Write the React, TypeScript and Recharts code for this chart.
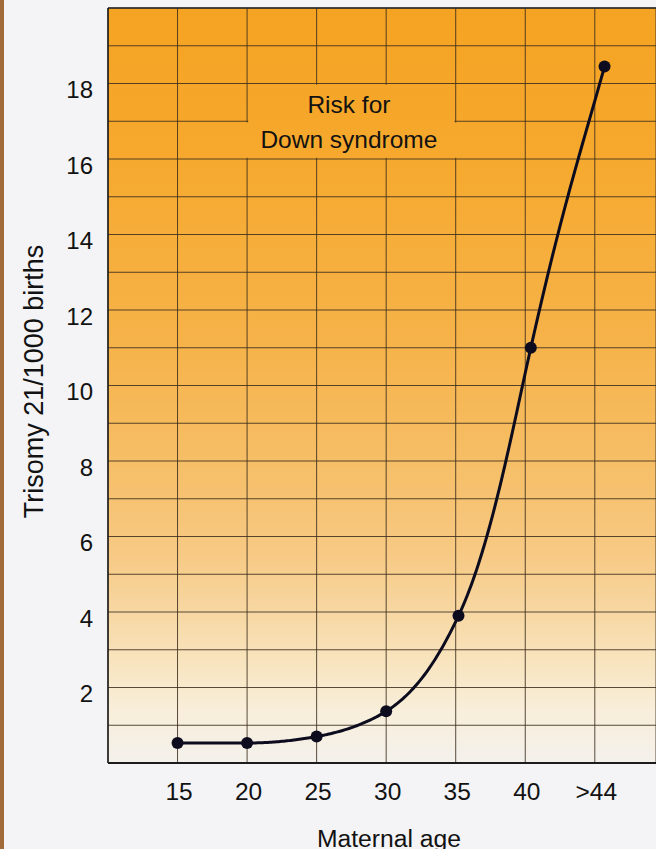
import React from "react";
import {
  LineChart,
  Line,
  XAxis,
  YAxis,
  CartesianGrid,
  ReferenceArea,
  ReferenceLine,
  Label,
} from "recharts";

// ---------- data ----------
const maternalAge = [15, 20, 25, 30, 35.2, 40.4, 45.7];
const trisomyPer1000 = [0.53, 0.53, 0.7, 1.37, 3.9, 11, 18.45];

const xTickValues = [10, 15, 20, 25, 30, 35, 40, 45];
const xTickLabels = ["", "15", "20", "25", "30", "35", "40", ">44"];

const yTickValues = [0, 1, 2, 3, 4, 5, 6, 7, 8, 9, 10, 11, 12, 13, 14, 15, 16, 17, 18, 19, 20];
const yLabelledTicks = [2, 4, 6, 8, 10, 12, 14, 16, 18];

const titleLines = ["Risk for", "Down syndrome"];
const titleBoxX1 = [20, 15];
const titleBoxX2 = [35, 40];
const titleBoxY1 = [17, 16];
const titleBoxY2 = [18, 17];

const xAxisTitle = "Maternal age";
const yAxisTitle = "Trisomy 21/1000 births";

const data = maternalAge.map((age, i) => ({ age, risk: trisomyPer1000[i] }));

// ---------- layout / style ----------
const W = 656;
const H = 849;
const PLOT_TOP = 8;
const X_AXIS_H = 86;
const Y_AXIS_W = 108;
const PLOT_BOTTOM = H - X_AXIS_H;
const FONT = "'Liberation Sans', Arial, Helvetica, sans-serif";
const TEXT = "#121212";
const titleNudgeY = [11, 7.5];

// Smooth curve: monotone cubic interpolation of the log of the distance
// from the value-0 baseline (gives the exponential-looking risk curve).
const makeLogMonotoneCurve = (baselineY: number) => (context: any) => {
  let xs: number[] = [];
  let ys: number[] = [];
  const sign = (v: number) => (v < 0 ? -1 : 1);
  return {
    areaStart() {},
    areaEnd() {},
    lineStart() {
      xs = [];
      ys = [];
    },
    point(x: number, y: number) {
      xs.push(+x);
      ys.push(+y);
    },
    lineEnd() {
      const n = xs.length;
      if (n === 0) return;
      context.moveTo(xs[0], ys[0]);
      if (n === 1) return;
      const u = ys.map((y) => Math.log(Math.max(baselineY - y, 1e-3)));
      const h: number[] = [];
      const s: number[] = [];
      for (let i = 0; i < n - 1; i++) {
        h.push(xs[i + 1] - xs[i]);
        s.push((u[i + 1] - u[i]) / (xs[i + 1] - xs[i]));
      }
      const m: number[] = new Array(n).fill(0);
      for (let i = 1; i < n - 1; i++) {
        const s0 = s[i - 1];
        const s1 = s[i];
        const p = (s0 * h[i] + s1 * h[i - 1]) / (h[i - 1] + h[i]);
        m[i] = (sign(s0) + sign(s1)) * Math.min(Math.abs(s0), Math.abs(s1), 0.5 * Math.abs(p)) || 0;
      }
      if (n > 2) {
        m[0] = (3 * s[0] - m[1]) / 2;
        m[n - 1] = (3 * s[n - 2] - m[n - 2]) / 2;
      } else {
        m[0] = s[0];
        m[1] = s[0];
      }
      const steps = 40;
      for (let i = 0; i < n - 1; i++) {
        const hh = h[i];
        for (let k = 1; k <= steps; k++) {
          const t = k / steps;
          const t2 = t * t;
          const t3 = t2 * t;
          const h00 = 2 * t3 - 3 * t2 + 1;
          const h10 = t3 - 2 * t2 + t;
          const h01 = -2 * t3 + 3 * t2;
          const h11 = t3 - t2;
          const uu = h00 * u[i] + h10 * hh * m[i] + h01 * u[i + 1] + h11 * hh * m[i + 1];
          context.lineTo(xs[i] + t * hh, baselineY - Math.exp(uu));
        }
      }
    },
  };
};

const XTick = (props: any) => {
  const { x, y, payload } = props;
  const idx = xTickValues.indexOf(payload.value);
  const label = idx >= 0 ? xTickLabels[idx] : "";
  if (!label) return null;
  return (
    <text x={x + 1.5} y={y + 37} textAnchor="middle" fontFamily={FONT} fontSize={24.5} fill={TEXT}>
      {label}
    </text>
  );
};

const YTick = (props: any) => {
  const { x, y, payload } = props;
  if (!yLabelledTicks.includes(payload.value)) return null;
  return (
    <text x={x - 15} y={y + 14.5} textAnchor="end" fontFamily={FONT} fontSize={24} fill={TEXT}>
      {payload.value}
    </text>
  );
};

const makeBoxShape = (i: number) => (props: any) => {
  const { x, y, width, height } = props;
  const extendBottom = i === 0 ? 2.5 : -1.2;
  return (
    <g>
      <rect
        x={x + 1.2}
        y={y + 1.2}
        width={width - 2.4}
        height={height - 1.2 + extendBottom}
        fill="url(#bgGrad)"
        stroke="none"
      />
      <text
        x={x + width / 2 - 2.5}
        y={y + height / 2 + titleNudgeY[i]}
        textAnchor="middle"
        fontFamily={FONT}
        fontSize={24.5}
        fill={TEXT}
      >
        {titleLines[i]}
      </text>
    </g>
  );
};

export default function App() {
  return (
    <div
      style={{
        position: "absolute",
        left: 0,
        top: 0,
        width: W,
        height: H,
        background: "#F4F4F6",
        overflow: "hidden",
      }}
    >
      <div
        style={{
          position: "absolute",
          left: 0,
          top: 0,
          width: 4,
          height: H,
          background: "#A26A38",
        }}
      />
      <div style={{ position: "absolute", left: 0, top: 0 }}>
        <LineChart
          width={W}
          height={H}
          data={data}
          margin={{ top: PLOT_TOP, right: 0, bottom: 0, left: 0 }}
        >
          <defs>
            <linearGradient
              id="bgGrad"
              x1="0"
              y1={PLOT_TOP}
              x2="0"
              y2={PLOT_BOTTOM}
              gradientUnits="userSpaceOnUse"
            >
              <stop offset="0" stopColor="#F5A322" />
              <stop offset="0.2" stopColor="#F6A92E" />
              <stop offset="0.45" stopColor="#F6B34A" />
              <stop offset="0.6" stopColor="#F6BE66" />
              <stop offset="0.72" stopColor="#F7C983" />
              <stop offset="0.8" stopColor="#F7D7A2" />
              <stop offset="0.87" stopColor="#F8E5C0" />
              <stop offset="0.93" stopColor="#F8EEDA" />
              <stop offset="1" stopColor="#F4F1EC" />
            </linearGradient>
          </defs>
          <CartesianGrid
            fill="url(#bgGrad)"
            fillOpacity={1}
            stroke="#3b2d1c"
            strokeOpacity={0.85}
            strokeWidth={1}
          />
          <XAxis
            dataKey="age"
            type="number"
            domain={[10, 49.4]}
            ticks={xTickValues}
            interval={0}
            allowDataOverflow
            height={X_AXIS_H}
            axisLine={{ stroke: "#1c1c1c", strokeWidth: 2 }}
            tickLine={false}
            tickSize={0}
            tickMargin={0}
            tick={XTick}
          >
            <Label
              content={(p: any) => {
                const vb = p.viewBox || { x: Y_AXIS_W, y: PLOT_BOTTOM, width: W - Y_AXIS_W, height: X_AXIS_H };
                return (
                  <text
                    x={vb.x + vb.width / 2 + 7}
                    y={vb.y + 83.5}
                    textAnchor="middle"
                    fontFamily={FONT}
                    fontSize={24.7}
                    fill={TEXT}
                  >
                    {xAxisTitle}
                  </text>
                );
              }}
            />
          </XAxis>
          <YAxis
            type="number"
            domain={[0, 20]}
            ticks={yTickValues}
            interval={0}
            width={Y_AXIS_W}
            axisLine={{ stroke: "#1c1c1c", strokeWidth: 1.5 }}
            tickLine={false}
            tickSize={0}
            tickMargin={0}
            tick={YTick}
          >
            <Label
              content={(p: any) => {
                const vb = p.viewBox || { x: 0, y: PLOT_TOP, width: Y_AXIS_W, height: PLOT_BOTTOM - PLOT_TOP };
                const cx = vb.x + 43;
                const cy = vb.y + vb.height / 2 - 4;
                return (
                  <text
                    x={cx}
                    y={cy}
                    textAnchor="middle"
                    fontFamily={FONT}
                    fontSize={27}
                    fill={TEXT}
                    transform={`rotate(-90 ${cx} ${cy})`}
                  >
                    {yAxisTitle}
                  </text>
                );
              }}
            />
          </YAxis>
          {titleLines.map((_, i) => (
            <ReferenceArea
              key={i}
              x1={titleBoxX1[i]}
              x2={titleBoxX2[i]}
              y1={titleBoxY1[i]}
              y2={titleBoxY2[i]}
              shape={makeBoxShape(i)}
            />
          ))}
          <ReferenceLine y={20} stroke="#2a2a2a" strokeWidth={1.5} />
          <Line
            dataKey="risk"
            type={makeLogMonotoneCurve(PLOT_BOTTOM) as any}
            stroke="#0c0c1e"
            strokeWidth={3}
            dot={{ r: 6, fill: "#0c0c1e", stroke: "#0c0c1e", strokeWidth: 0 }}
            activeDot={false}
            isAnimationActive={false}
          />
        </LineChart>
      </div>
    </div>
  );
}
